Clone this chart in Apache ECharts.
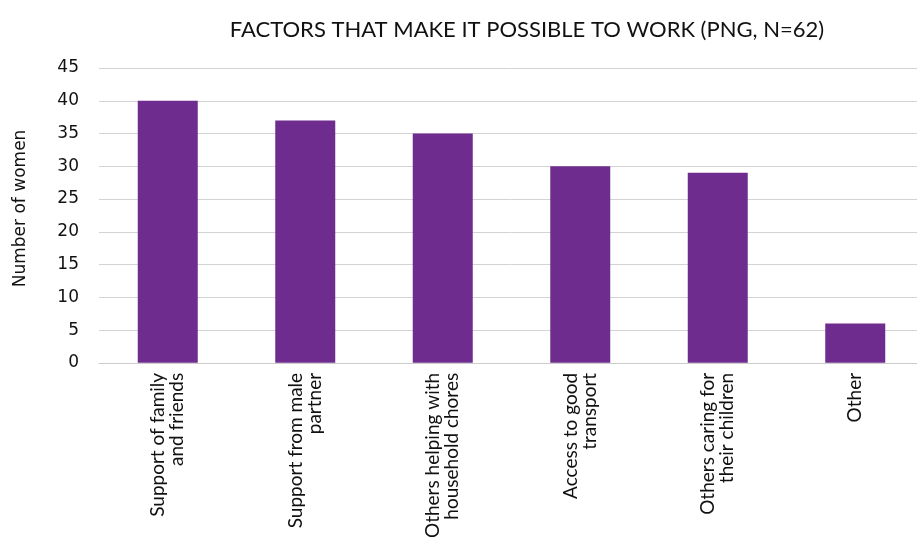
<!DOCTYPE html>
<html>
<head>
<meta charset="utf-8">
<script src="https://cdn.jsdelivr.net/npm/echarts@6/dist/echarts.min.js"></script>
<style>
  html, body { margin: 0; padding: 0; background: #ffffff; overflow: hidden; }
  /* the plot runs slightly past the right edge of the page, so the canvas is a bit wider */
  #chart { width: 930px; height: 541px; }
</style>
</head>
<body>
<div id="chart"></div>
<script>
// Factors reported as making paid work possible
const categories = [
  'Support of family\nand friends',
  'Support from male\npartner',
  'Others helping with\nhousehold chores',
  'Access to good\ntransport',
  'Others caring for\ntheir children',
  'Other'
];
const womenCounts = [40, 37, 35, 30, 29, 6];
const yTicks = [0, 5, 10, 15, 20, 25, 30, 35, 40, 45];

const chart = echarts.init(document.getElementById('chart'));
chart.setOption({
  animation: false,
  backgroundColor: '#ffffff',
  title: {
    text: 'FACTORS THAT MAKE IT POSSIBLE TO WORK (PNG, N=62)',
    left: 522,
    top: 14,
    textAlign: 'center',
    textStyle: { fontFamily: 'Lato', fontSize: 22, fontWeight: 'normal', color: '#111111' }
  },
  grid: { left: 99, top: 68, width: 825, height: 297, containLabel: false },
  xAxis: {
    type: 'category',
    data: categories,
    axisLine: { lineStyle: { color: '#cccccc', width: 1 } },
    axisTick: { show: false },
    axisLabel: {
      rotate: 90,
      interval: 0,
      margin: 10,
      fontFamily: 'Lato',
      fontSize: 19,
      color: '#111111',
      lineHeight: 19,
      align: 'right'
    }
  },
  yAxis: {
    type: 'value',
    min: yTicks[0],
    max: yTicks[yTicks.length - 1],
    interval: 5,
    name: 'Number of women',
    nameLocation: 'middle',
    nameGap: 70,
    nameTextStyle: { fontFamily: 'DejaVu Sans', fontSize: 17, color: '#111111', padding: [0, 0, 0, 14] },
    axisLine: { show: false },
    axisTick: { show: false },
    axisLabel: { fontFamily: 'DejaVu Sans', fontSize: 17, color: '#111111', margin: 20 },
    splitLine: { lineStyle: { color: '#d3d3d3', width: 1 } }
  },
  series: [{
    type: 'bar',
    data: womenCounts,
    barWidth: 60,
    itemStyle: { color: '#6e2c8e' }
  }]
});
</script>
</body>
</html>
